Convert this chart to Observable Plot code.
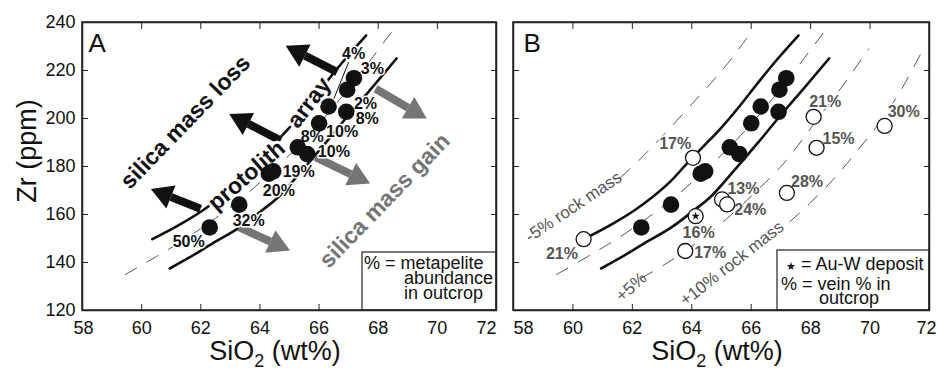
<!DOCTYPE html>
<html><head><meta charset="utf-8">
<script src="https://cdn.jsdelivr.net/npm/d3@7"></script>
<script src="https://cdn.jsdelivr.net/npm/@observablehq/plot@0.6"></script>
<style>
body{margin:0;background:#fff;}
#wrap{display:flex;width:938px;height:373px;font-family:"Liberation Sans",Arial,Helvetica,sans-serif;}
#wrap svg{display:block;}
</style></head><body><div id="wrap"></div>
<script>
// ---- axes ----
const xTicks = [58, 60, 62, 64, 66, 68, 70, 72];
const yTicks = [120, 140, 160, 180, 200, 220, 240];

// ---- filled samples (metasedimentary rocks), shown in both panels ----
const rockSiO2 = [62.3, 63.3, 64.3, 64.45, 65.28, 65.6, 66.0, 66.32, 66.92, 66.95, 67.18];
const rockZr   = [154.6, 164.1, 177.0, 178.0, 188.0, 185.2, 198.0, 205.0, 202.8, 212.0, 216.8];
const metapeliteLabels   = ["50%", "32%", "20%", "19%", "8%", "10%", "10%", "4%", "8%", "2%", "3%"];
const metapeliteLabelSiO2 = [61.59, 63.62, 64.64, 65.31, 65.77, 66.50, 66.78, 67.17, 67.63, 67.57, 67.80];
const metapeliteLabelZr   = [148.5, 157.5, 170.0, 177.6, 192.5, 186.0, 194.3, 227.0, 199.9, 206.1, 220.7];

// ---- open samples (veined rocks), panel B ----
const veinSiO2 = [60.36, 64.04, 64.13, 63.78, 65.02, 65.19, 67.20, 68.10, 68.20, 70.49];
const veinZr   = [149.7, 183.6, 159.3, 144.8, 166.3, 164.2, 169.0, 200.7, 187.8, 196.9];
const veinLabels    = ["21%", "17%", "16%", "17%", "13%", "24%", "28%", "21%", "15%", "30%"];
const veinLabelSiO2 = [59.63, 63.44, 64.23, 64.62, 65.74, 65.97, 67.88, 68.49, 68.94, 71.13];
const veinLabelZr   = [143.75, 189.6, 152.5, 144.2, 170.8, 161.8, 173.6, 206.9, 191.7, 202.75];
const auWSiO2 = [64.13];
const auWZr   = [159.3];

// ---- curves ----
const protolithSiO2 = [59.45, 60.5, 61.5, 62.5, 63.5, 64.5, 65.5, 66.5, 67.0, 67.5, 68.45];
const protolithZr   = [135, 142.5, 150, 158.5, 168, 179, 191, 205, 212.5, 220.5, 236];
const upperSiO2 = [60.36, 61.36, 62.1, 62.7, 63.3, 63.82, 64.4, 64.96, 65.6, 66.3, 66.9, 67.59];
const upperZr   = [149.7, 156.3, 162, 167.5, 174, 181, 188.5, 195.7, 205, 216, 225, 234.6];
const lowerSiO2 = [60.95, 61.6, 62.4, 63.3, 64.1, 64.6, 65.4, 66.2, 66.9, 67.8, 68.62];
const lowerZr   = [137.5, 142, 148, 154.5, 162, 167, 178, 189.5, 200, 213, 225];
const minus5SiO2 = [61.6, 61.92, 63.0, 64.0, 65.06, 65.97];
const minus5Zr   = [175.5, 179, 192.5, 206, 220.7, 235.4];
const plus5SiO2 = [62.3, 63.2, 64.2, 65.2, 66.2, 67.0, 68.25, 69.1, 69.95];
const plus5Zr   = [133.5, 140, 148.5, 158.5, 170, 180, 200, 214, 229];
const plus10SiO2 = [67.3, 68.0, 68.9, 69.6, 70.3, 71.0, 71.75];
const plus10Zr   = [157, 165, 176.5, 187, 198, 211, 228];

// ---- arrows (tail -> head base) ----
const lossTailSiO2 = [66.61, 64.70, 61.99];
const lossTailZr   = [219.3, 190.8, 162.4];
const lossHeadSiO2 = [65.52, 63.61, 60.99];
const lossHeadZr   = [226.2, 197.75, 167.3];
const gainTailSiO2 = [67.91, 65.88, 63.29];
const gainTailZr   = [212.4, 183.9, 154.7];
const gainHeadSiO2 = [69.01, 67.07, 64.35];
const gainHeadZr   = [204.5, 176.8, 148.75];

const pts = (xs, ys) => xs.map((x, i) => ({x, y: ys[i]}));
const links = (x1, y1, x2, y2) => x1.map((_, i) => ({x1: x1[i], y1: y1[i], x2: x2[i], y2: y2[i]}));
const lbls = (xs, ys, t) => xs.map((x, i) => ({x, y: ys[i], t: t[i]}));

function arrowHead(color) {
  const m = d3.create("svg:marker")
    .attr("viewBox", "0 -5 10 10")
    .attr("preserveAspectRatio", "none")
    .attr("refX", 0).attr("refY", 0)
    .attr("markerWidth", 2.7).attr("markerHeight", 3.1)
    .attr("orient", "auto")
    .attr("overflow", "visible");
  m.append("path").attr("d", "M0,-5L10,0L0,5Z").attr("fill", color).attr("stroke", "none");
  return m.node();
}

const solid = {x: "x", y: "y", stroke: "#111", strokeWidth: 2.6, curve: "monotone-x"};
const dashed = {x: "x", y: "y", stroke: "#555", strokeWidth: 1, strokeDasharray: "13,12", curve: "monotone-x"};

function axes(showY, panel) {
  const inner = xTicks.slice(1, -1);
  const lab = {anchor: "bottom", tickSize: 0, tickPadding: 11, label: null, fontSize: 18};
  return [
    Plot.axisX({anchor: "bottom", ticks: xTicks, tickSize: -6, tickFormat: () => "", label: null, stroke: "#222"}),
    Plot.axisX({...lab, ticks: inner}),
    Plot.axisX({...lab, ticks: [58], dx: panel === "A" ? 1 : 10}),
    Plot.axisX({...lab, ticks: [72], dx: panel === "A" ? -10 : -3}),
    Plot.axisX({anchor: "top", ticks: xTicks, tickSize: -6, tickFormat: () => "", label: null, stroke: "#222"}),
    Plot.axisY({anchor: "left", ticks: yTicks, tickSize: -6, tickPadding: 13, label: null, fontSize: 18, stroke: "#222",
      tickFormat: showY ? (d) => String(d) : () => ""}),
    Plot.axisY({anchor: "right", ticks: yTicks, tickSize: -6, tickFormat: () => "", label: null, stroke: "#222"}),
    Plot.frame({stroke: "#222", strokeWidth: 1.5})
  ];
}

const common = {
  height: 373, marginTop: 22, marginBottom: 63,
  x: {domain: [58, 72]}, y: {domain: [120, 240]},
  style: {fontFamily: '"Liberation Sans", Arial, sans-serif', fontSize: "18px", color: "#111", background: "white"}
};

// ---------- Panel A ----------
const chartA = Plot.plot({
  ...common, width: 504, marginLeft: 82, marginRight: 8,
  marks: [
    Plot.line(pts(protolithSiO2, protolithZr), dashed),
    Plot.line(pts(upperSiO2, upperZr), solid),
    Plot.line(pts(lowerSiO2, lowerZr), solid),
    Plot.link(links(lossTailSiO2, lossTailZr, lossHeadSiO2, lossHeadZr),
      {x1: "x1", y1: "y1", x2: "x2", y2: "y2", stroke: "#111", strokeWidth: 8, markerEnd: arrowHead}),
    Plot.link(links(gainTailSiO2, gainTailZr, gainHeadSiO2, gainHeadZr),
      {x1: "x1", y1: "y1", x2: "x2", y2: "y2", stroke: "#757575", strokeWidth: 8, markerEnd: arrowHead}),
    Plot.text(["silica mass loss"], {x: 61.48, y: 198.5, rotate: -46, fontSize: 23, fontWeight: "bold", fill: "#111"}),
    Plot.text(["protolith"], {x: 63.55, y: 176.2, rotate: -41, fontSize: 23, fontWeight: "bold", fill: "#111", stroke: "white", strokeWidth: 6}),
    Plot.text(["array"], {x: 65.66, y: 206.6, rotate: -53, fontSize: 23, fontWeight: "bold", fill: "#111", stroke: "white", strokeWidth: 6}),
    Plot.text(["silica mass gain"], {x: 68.22, y: 165.8, rotate: -46, fontSize: 23, fontWeight: "bold", fill: "#757575"}),
    Plot.link([{x1: 67.0, y1: 223.5, x2: 66.5, y2: 208.2}], {x1: "x1", y1: "y1", x2: "x2", y2: "y2", stroke: "#111", strokeWidth: 1}),
    Plot.text(lbls(metapeliteLabelSiO2, metapeliteLabelZr, metapeliteLabels),
      {x: "x", y: "y", text: "t", fontSize: 16, fontWeight: "bold", fill: "#111", stroke: "white", strokeWidth: 3}),
    Plot.dot(pts(rockSiO2, rockZr), {x: "x", y: "y", r: 8.3, fill: "#111", stroke: "none"}),
    Plot.text(["A"], {frameAnchor: "top-left", dx: 6, dy: 11, lineAnchor: "top", textAnchor: "start", fontSize: 26, fill: "#111"}),
    ...axes(true, "A")
  ]
});

// ---------- Panel B ----------
const chartB = Plot.plot({
  ...common, width: 434, marginLeft: 9, marginRight: 9,
  marks: [
    Plot.line(pts(protolithSiO2, protolithZr), dashed),
    Plot.line(pts(minus5SiO2, minus5Zr), dashed),
    Plot.line(pts(plus5SiO2, plus5Zr), dashed),
    Plot.line(pts(plus10SiO2, plus10Zr), dashed),
    Plot.line(pts(upperSiO2, upperZr), solid),
    Plot.line(pts(lowerSiO2, lowerZr), solid),
    Plot.text(["-5% rock mass"], {x: 60.02, y: 163.2, rotate: -34, fontSize: 17, fill: "#555"}),
    Plot.text(["+5%"], {x: 61.96, y: 129.8, rotate: -42, fontSize: 17, fill: "#555"}),
    Plot.text(["+10% rock mass"], {x: 65.35, y: 139.6, rotate: -38, fontSize: 17, fill: "#555"}),
    Plot.text(lbls(veinLabelSiO2, veinLabelZr, veinLabels),
      {x: "x", y: "y", text: "t", fontSize: 16, fontWeight: "bold", fill: "#555", stroke: "white", strokeWidth: 3}),
    Plot.dot(pts(rockSiO2, rockZr), {x: "x", y: "y", r: 8.3, fill: "#111", stroke: "none"}),
    Plot.dot(pts(veinSiO2, veinZr), {x: "x", y: "y", r: 7.5, fill: "white", stroke: "#111", strokeWidth: 1.3}),
    Plot.dot(pts(auWSiO2, auWZr), {x: "x", y: "y", r: 2.6, symbol: "star", fill: "#111", stroke: "none"}),
    Plot.text(["B"], {frameAnchor: "top-left", dx: 10, dy: 11, lineAnchor: "top", textAnchor: "start", fontSize: 26, fill: "#111"}),
    ...axes(false, "B")
  ]
});

// ---------- titles & legends ----------
function addXTitle(chart, cx) {
  const t = d3.select(chart).append("text")
    .attr("x", cx).attr("y", 360).attr("text-anchor", "middle")
    .attr("font-size", 27).attr("fill", "#111");
  t.append("tspan").text("SiO");
  t.append("tspan").text("2").attr("font-size", 18).attr("dy", 7);
  t.append("tspan").text(" (wt%)").attr("dy", -7);
}
function addLegend(chart, boxW, boxH, lines) {
  const xs = chart.scale("x").range, ys = chart.scale("y").range;
  const right = Math.max(...xs), bottom = Math.max(...ys);
  const g = d3.select(chart).append("g").attr("text-anchor", "start");
  g.append("rect").attr("x", right - boxW).attr("y", bottom - boxH).attr("width", boxW).attr("height", boxH)
    .attr("fill", "white").attr("stroke", "#222").attr("stroke-width", 1.2);
  for (const l of lines) {
    const t = g.append("text").attr("x", right - boxW + l.dx).attr("y", bottom - boxH + l.dy)
      .attr("text-anchor", "start").attr("font-size", 18).attr("fill", "#111");
    for (const s of l.parts) {
      const sp = t.append("tspan").text(s.t);
      if (s.size) sp.attr("font-size", s.size);
    }
  }
  d3.select(chart).append("rect").attr("x", Math.min(...xs)).attr("y", Math.min(...ys))
    .attr("width", right - Math.min(...xs)).attr("height", bottom - Math.min(...ys))
    .attr("fill", "none").attr("stroke", "#222").attr("stroke-width", 1.5);
}

addXTitle(chartA, 275);
d3.select(chartA).append("text").attr("transform", "translate(27,151) rotate(-90)")
  .attr("text-anchor", "middle").attr("dominant-baseline", "central")
  .attr("font-size", 27).attr("fill", "#111").text("Zr (ppm)");
addLegend(chartA, 134, 58, [
  {dx: 2, dy: 17, parts: [{t: "% = metapelite"}]},
  {dx: 42, dy: 32, parts: [{t: "abundance"}]},
  {dx: 42, dy: 47, parts: [{t: "in outcrop"}]}
]);

addXTitle(chartB, 213);
addLegend(chartB, 152, 60, [
  {dx: 9, dy: 20, parts: [{t: "★", size: 11}, {t: " = Au-W deposit"}]},
  {dx: 4, dy: 40, parts: [{t: "% = vein % in"}]},
  {dx: 42, dy: 54, parts: [{t: "outcrop"}]}
]);

document.getElementById("wrap").append(chartA, chartB);
</script>
</body></html>
